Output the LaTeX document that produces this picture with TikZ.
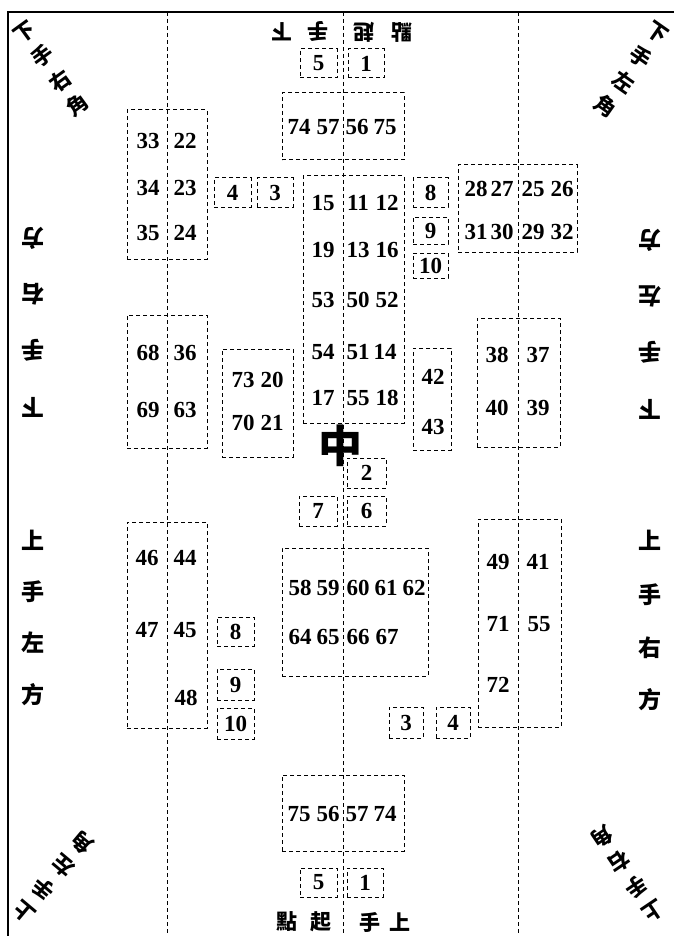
\documentclass[tikz,border=0pt]{standalone}
\usepackage{fontspec}
\newfontfamily\cjk{Noto Sans CJK TC}
\newfontfamily\numf{Liberation Serif}
\begin{document}
\begin{tikzpicture}[x=1pt,y=-1pt,
  dl/.style={dash pattern=on 4pt off 3pt, line width=1pt},
  bx/.style={draw, dl, inner sep=0pt, font=\numf\bfseries\fontsize{23}{23}\selectfont},
  num/.style={inner sep=0pt, font=\numf\bfseries\fontsize{23}{23}\selectfont},
  side/.style={inner sep=0pt, font=\cjk\bfseries\fontsize{23}{23}\selectfont},
  ttl/.style={inner sep=0pt, font=\cjk\bfseries\fontsize{21}{21}\selectfont},
  corner/.style={inner sep=0pt, align=center, font=\cjk\bfseries\fontsize{21}{30}\selectfont}]
\useasboundingbox (0,0) rectangle (674,936);
\fill[white] (0,0) rectangle (674,936);
% frame
\coordinate (ftl) at (8,12);
\coordinate (ftr) at (674,12);
\coordinate (fbl) at (8,936);
\draw[line width=1.8pt] (fbl) -- (ftl) -- (ftr);
% long dashed lines
\coordinate (v1t) at (167,12); \coordinate (v1b) at (167,936);
\coordinate (v2t) at (343,12); \coordinate (v2b) at (343,936);
\coordinate (v3t) at (518,12); \coordinate (v3b) at (518,936);
\draw[dl] (v1t) -- (v1b);
\draw[dl] (v2t) -- (v2b);
\draw[dl] (v3t) -- (v3b);
% boxes with single numbers
\node[bx, minimum width=37, minimum height=29] (top5) at (318.5,63.5) {5};
\node[bx, minimum width=36, minimum height=29] (top1) at (366,63.5) {1};
\node[bx, minimum width=37, minimum height=29] (bu4) at (232.5,192.5) {4};
\node[bx, minimum width=36, minimum height=29] (bu3) at (275,192.5) {3};
\node[bx, minimum width=35, minimum height=29] (bu8) at (430.5,192.5) {8};
\node[bx, minimum width=35, minimum height=27] (bu9) at (430.5,230.5) {9};
\node[bx, minimum width=35, minimum height=25] (bu10) at (430.5,265.5) {10};
\node[bx, minimum width=39, minimum height=30] (b2) at (366.5,473) {2};
\node[bx, minimum width=38, minimum height=30] (b7) at (318,511) {7};
\node[bx, minimum width=39, minimum height=30] (b6) at (366.5,511) {6};
\node[bx, minimum width=37, minimum height=29] (bl8) at (235.5,631.5) {8};
\node[bx, minimum width=37, minimum height=31] (bl9) at (235.5,684.5) {9};
\node[bx, minimum width=37, minimum height=31] (bl10) at (235.5,723.5) {10};
\node[bx, minimum width=34, minimum height=31] (bl3) at (406,722.5) {3};
\node[bx, minimum width=34, minimum height=31] (bl4) at (453,722.5) {4};
\node[bx, minimum width=37, minimum height=29] (bb5) at (318.5,882.5) {5};
\node[bx, minimum width=36, minimum height=29] (bb1) at (365,882.5) {1};
% boxes holding several numbers
\node[bx, minimum width=122, minimum height=67] (topbig) at (343,126.5) {};
\node[bx, minimum width=80, minimum height=149] (b3322) at (167,184.5) {};
\node[bx, minimum width=101, minimum height=247] (bcenter) at (353.5,299.5) {};
\node[bx, minimum width=119, minimum height=87] (b2827) at (517.5,208.5) {};
\node[bx, minimum width=80, minimum height=133] (b6836) at (167,381.5) {};
\node[bx, minimum width=71, minimum height=108] (b7320) at (257.5,403) {};
\node[bx, minimum width=38, minimum height=102] (b4243) at (432,399) {};
\node[bx, minimum width=83, minimum height=129] (b3837) at (518.5,382.5) {};
\node[bx, minimum width=80, minimum height=206] (b4644) at (167,625) {};
\node[bx, minimum width=146, minimum height=128] (b5859) at (355,612) {};
\node[bx, minimum width=83, minimum height=208] (b4941) at (519.5,623) {};
\node[bx, minimum width=122, minimum height=76] (bbig) at (343,813) {};
% numbers
\foreach \t/\x/\y in {
  74/299/127, 57/328/127, 56/357/127, 75/385/127,
  33/148/141, 22/185/141, 34/148/188, 23/185/188, 35/148/233, 24/185/233,
  15/323/203, 11/358/203, 12/387/203, 19/323/250, 13/358/250, 16/387/250,
  53/323/300, 50/358/300, 52/387/300, 54/323/352, 51/358/352, 14/385/352,
  17/323/398, 55/358/398, 18/387/398,
  28/476/189, 27/502/189, 25/533/189, 26/562/189,
  31/476/232, 30/502/232, 29/533/232, 32/562/232,
  68/148/353, 36/185/353, 69/148/410, 63/185/410,
  73/243/380, 20/272/380, 70/243/423, 21/272/423,
  42/433/377, 43/433/427,
  38/497/355, 37/538/355, 40/497/408, 39/538/408,
  46/147/558, 44/185/558, 47/147/630, 45/185/630, 48/186/698,
  58/300/588, 59/328/588, 60/358/588, 61/386/588, 62/414/588,
  64/300/637, 65/328/637, 66/358/637, 67/387/637,
  49/498/562, 41/538/562, 71/498/624, 55/539/624, 72/498/685,
  75/299/814, 56/328/814, 57/357/814, 74/385/814}
  \node[num] (n\t-\x-\y) at (\x,\y) {\t};
% centre character
\node[inner sep=0pt, font=\cjk\bfseries\fontsize{44}{44}\selectfont] (zhong) at (340,446) {中};
% top title (upside down)
\node[ttl, rotate=180] (tt1) at (282,32) {下};
\node[ttl, rotate=180] (tt2) at (318,32) {手};
\node[ttl, rotate=180] (tt3) at (364,32) {起};
\node[ttl, rotate=180] (tt4) at (402,32) {點};
% bottom title
\node[ttl] (bt1) at (287,922) {點};
\node[ttl] (bt2) at (321,922) {起};
\node[ttl] (bt3) at (370,922) {手};
\node[ttl] (bt4) at (400,922) {上};
% left side
\node[side, rotate=180] (ls1) at (33,238) {方};
\node[side, rotate=180] (ls2) at (33,294) {右};
\node[side, rotate=180] (ls3) at (33,350) {手};
\node[side, rotate=180] (ls4) at (33,407) {下};
\node[side] (ls5) at (33,540) {上};
\node[side] (ls6) at (33,592) {手};
\node[side] (ls7) at (33,643) {左};
\node[side] (ls8) at (33,695) {方};
% right side
\node[side, rotate=180] (rs1) at (650,240) {方};
\node[side, rotate=180] (rs2) at (650,296) {左};
\node[side, rotate=180] (rs3) at (650,352) {手};
\node[side, rotate=180] (rs4) at (650,409) {下};
\node[side] (rs5) at (650,540) {上};
\node[side] (rs6) at (650,595) {手};
\node[side] (rs7) at (650,648) {右};
\node[side] (rs8) at (650,700) {方};
% corners
\node[corner, rotate=36] (ctl) at (51.5,69) {下\\手\\右\\角};
\node[corner, rotate=-35] (ctr) at (631.5,70) {下\\手\\左\\角};
\node[corner, rotate=140] (cbl) at (53.5,877.5) {上\\手\\左\\角};
\node[corner, rotate=-146] (cbr) at (627.5,874) {上\\手\\右\\角};
\end{tikzpicture}
\end{document}
